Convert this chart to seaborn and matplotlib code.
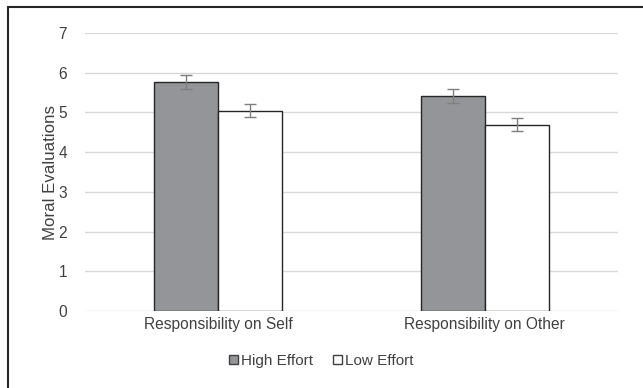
import matplotlib
matplotlib.use("Agg")
import matplotlib.pyplot as plt
from matplotlib.lines import Line2D
from matplotlib.patches import Patch
import seaborn as sns
import pandas as pd
import numpy as np

categories = ["Responsibility on Self", "Responsibility on Other"]
conditions = ["High Effort", "Low Effort"]
high_effort = [5.77, 5.41]
low_effort = [5.04, 4.69]
high_err = [0.17, 0.18]
low_err = [0.16, 0.16]
y_ticks = [0, 1, 2, 3, 4, 5, 6, 7]

sns.set_theme(style="white")
plt.rcParams['font.family'] = ['Liberation Sans', 'DejaVu Sans']

df = pd.DataFrame({
    "category": categories * 2,
    "condition": [conditions[0]] * 2 + [conditions[1]] * 2,
    "value": high_effort + low_effort,
    "err": high_err + low_err,
})

fig = plt.figure(figsize=(6.43, 3.88), dpi=100)
ax = fig.add_axes([85/643, 1-311/388, (618-85)/643, (311-33)/388])

palette = {"High Effort": "#939598", "Low Effort": "#ffffff"}
sns.barplot(data=df, x="category", y="value", hue="condition", order=categories,
            hue_order=conditions, palette=palette, width=0.48, errorbar=None,
            edgecolor="#262626", linewidth=1.0, ax=ax, legend=False, saturation=1)

# error bars from bar positions
bars = [p for p in ax.patches]
errs = high_err + low_err
vals = high_effort + low_effort
for p, v, e in zip(bars, vals, errs):
    cx = p.get_x() + p.get_width() / 2
    ax.errorbar(cx, p.get_height(), yerr=e, color="#7f7f7f", capsize=4,
                elinewidth=1.0, capthick=1.0, zorder=5)

ax.set_ylim(0, 7)
ax.set_xlim(-0.5, 1.5)
ax.set_yticks(y_ticks)
ax.yaxis.grid(True, color="#d9d9d9", linewidth=1.0)
ax.set_axisbelow(True)
for s in ax.spines.values():
    s.set_visible(False)
ax.tick_params(axis="both", length=0, labelsize=11.2, colors="#404040")
ax.tick_params(axis="y", pad=13)
ax.tick_params(axis="x", pad=4)
ax.set_xlabel("")
ax.set_ylabel("Moral Evaluations", fontsize=12.2, color="#404040", labelpad=0)

handles = [Patch(facecolor=palette[c], edgecolor="#404040", linewidth=1.0) for c in conditions]
fig.legend(handles, conditions, loc="center", bbox_to_anchor=(0.5, 1-361/388), ncol=2,
           frameon=False, fontsize=11, handlelength=0.6, handleheight=0.6,
           handletextpad=0.2, columnspacing=1.3, labelcolor="#404040")

fig.add_artist(Line2D([8/643, 8/643], [0, 1-7/388], color="#262626", linewidth=1.5))
fig.add_artist(Line2D([8/643, 1], [1-7/388, 1-7/388], color="#262626", linewidth=1.5))

fig.savefig("out.png", dpi=100)
